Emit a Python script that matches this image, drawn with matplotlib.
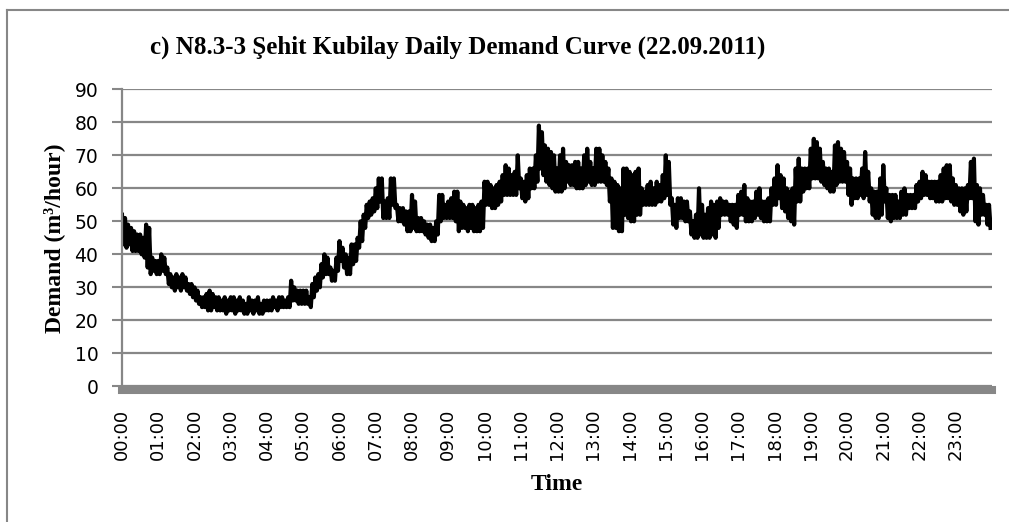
import matplotlib.pyplot as plt
from matplotlib.lines import Line2D

# demand band for every 5-minute slot (m3/hour):
# hiXX = top of the noisy band, loXX = bottom of the band, XX = hour
hi00 = [52, 51, 49, 48, 47, 46, 46, 45, 49, 48, 39, 38]
lo00 = [43, 42, 43, 41, 41, 41, 40, 39, 36, 34, 35, 34]
hi01 = [38, 40, 39, 36, 34, 33, 34, 33, 34, 33, 31, 31]
lo01 = [34, 35, 34, 31, 30, 29, 30, 29, 30, 29, 28, 27]
hi02 = [30, 29, 27, 27, 28, 29, 28, 27, 27, 26, 27, 26]
lo02 = [26, 25, 24, 24, 23, 23, 24, 23, 23, 23, 22, 23]
hi03 = [27, 27, 26, 27, 26, 25, 27, 26, 26, 27, 25, 26]
lo03 = [23, 22, 23, 23, 22, 22, 23, 22, 23, 22, 22, 23]
hi04 = [26, 26, 27, 26, 27, 27, 26, 27, 32, 30, 29, 29]
lo04 = [23, 23, 24, 23, 24, 24, 24, 24, 26, 26, 25, 25]
hi05 = [29, 29, 27, 31, 33, 34, 37, 40, 39, 36, 35, 39]
lo05 = [25, 25, 24, 27, 29, 30, 33, 34, 34, 32, 32, 35]
hi06 = [44, 42, 40, 39, 43, 43, 45, 50, 52, 55, 56, 57]
lo06 = [38, 36, 34, 34, 37, 38, 42, 44, 48, 51, 52, 53]
hi07 = [60, 63, 63, 56, 57, 63, 63, 55, 54, 54, 53, 53]
lo07 = [54, 56, 51, 51, 51, 55, 54, 50, 50, 49, 47, 47]
hi08 = [58, 56, 51, 51, 50, 49, 49, 48, 50, 58, 58, 55]
lo08 = [48, 47, 47, 47, 46, 45, 44, 44, 46, 50, 51, 51]
hi09 = [56, 57, 59, 59, 56, 55, 54, 55, 55, 54, 55, 56]
lo09 = [51, 51, 50, 47, 48, 48, 47, 48, 47, 47, 47, 48]
hi10 = [62, 62, 61, 60, 61, 62, 64, 67, 66, 64, 65, 70]
lo10 = [55, 55, 54, 54, 55, 56, 58, 58, 58, 58, 58, 60]
hi11 = [63, 62, 64, 66, 66, 70, 79, 77, 73, 72, 71, 70]
lo11 = [57, 56, 57, 60, 60, 62, 66, 64, 62, 61, 60, 59]
hi12 = [66, 70, 72, 68, 67, 67, 68, 68, 66, 70, 72, 68]
lo12 = [59, 59, 60, 62, 61, 61, 60, 60, 60, 61, 62, 61]
hi13 = [66, 72, 72, 70, 68, 66, 63, 62, 61, 60, 66, 66]
lo13 = [61, 62, 62, 62, 61, 56, 48, 48, 47, 47, 52, 51]
hi14 = [65, 64, 65, 66, 60, 59, 61, 62, 60, 62, 61, 64]
lo14 = [50, 50, 52, 52, 55, 55, 55, 55, 55, 56, 56, 57]
hi15 = [70, 68, 57, 55, 57, 57, 56, 56, 53, 50, 52, 60]
lo15 = [58, 55, 49, 48, 51, 51, 50, 50, 46, 45, 45, 46]
hi16 = [55, 52, 54, 56, 55, 56, 57, 56, 56, 55, 55, 55]
lo16 = [45, 45, 45, 46, 45, 48, 52, 52, 52, 50, 49, 48]
hi17 = [58, 59, 61, 57, 56, 56, 59, 60, 56, 56, 57, 60]
lo17 = [52, 52, 50, 50, 50, 51, 52, 51, 50, 50, 50, 55]
hi18 = [63, 67, 64, 63, 60, 59, 60, 66, 69, 66, 66, 66]
lo18 = [55, 57, 54, 53, 51, 50, 49, 56, 56, 59, 60, 60]
hi19 = [72, 75, 74, 72, 68, 66, 66, 65, 73, 74, 72, 71]
lo19 = [63, 63, 63, 62, 61, 60, 59, 59, 61, 62, 62, 62]
hi20 = [68, 66, 63, 63, 63, 66, 71, 65, 60, 59, 59, 63]
lo20 = [58, 55, 57, 57, 58, 57, 58, 56, 52, 51, 51, 52]
hi21 = [67, 60, 58, 58, 58, 56, 59, 60, 58, 58, 58, 61]
lo21 = [56, 51, 50, 51, 51, 51, 52, 52, 54, 54, 54, 56]
hi22 = [62, 65, 64, 62, 62, 62, 62, 64, 66, 67, 67, 63]
lo22 = [57, 58, 58, 57, 57, 56, 56, 56, 57, 57, 56, 55]
hi23 = [61, 60, 60, 60, 61, 68, 69, 61, 60, 58, 55, 55]
lo23 = [55, 53, 52, 53, 57, 57, 50, 49, 52, 52, 49, 48]

his = [hi00, hi01, hi02, hi03, hi04, hi05, hi06, hi07, hi08, hi09, hi10, hi11,
       hi12, hi13, hi14, hi15, hi16, hi17, hi18, hi19, hi20, hi21, hi22, hi23]
los = [lo00, lo01, lo02, lo03, lo04, lo05, lo06, lo07, lo08, lo09, lo10, lo11,
       lo12, lo13, lo14, lo15, lo16, lo17, lo18, lo19, lo20, lo21, lo22, lo23]
hour_labels = ['%02d:00' % h for h in range(24)]

# the demand swings between band top and bottom inside every slot
t, demand = [], []
for h in range(24):
    for k in range(12):
        m = h * 60 + k * 5
        t += [m, m + 2.5]
        demand += [his[h][k], los[h][k]]

grey = '#878787'
serif = 'Liberation Serif'

fig = plt.figure(figsize=(10.09, 5.22), dpi=100)
ax = fig.add_axes([0.1209, 0.2599, 0.8623, 0.569])

ax.plot(t, demand, color='black', lw=3)

ax.set_xlim(0, 1440)
ax.set_ylim(0, 90)
ax.set_yticks(range(0, 91, 10))
ax.set_xticks(range(0, 1440, 60))
ax.set_xticklabels(hour_labels)
ax.tick_params(axis='x', length=0, pad=13, labelrotation=90, labelsize=13)
ax.tick_params(axis='y', labelsize=13.5, length=7, width=1.5, color=grey, pad=10)
ax.yaxis.grid(True, color=grey, lw=1.6)
ax.set_axisbelow(True)

for s in ['top', 'right']:
    ax.spines[s].set_visible(False)
ax.spines['left'].set_color(grey)
ax.spines['left'].set_linewidth(1.6)
ax.spines['bottom'].set_color(grey)
ax.spines['bottom'].set_linewidth(5.8)
ax.spines['bottom'].set_position(('outward', 3))

ax.set_xlabel('Time', family=serif, fontweight='bold', fontsize=17)
ax.xaxis.set_label_coords(0.5, -0.295)
ax.set_ylabel('Demand (m³/hour)', family=serif, fontweight='bold', fontsize=17)
ax.yaxis.set_label_coords(-0.066, 0.5)
fig.text(0.149, 0.91, 'c) N8.3-3 Şehit Kubilay Daily Demand Curve (22.09.2011)',
         family=serif, fontweight='bold', fontsize=18, va='center')

# chart area border (only top and left edges are in frame)
fig.add_artist(Line2D([7 / 1009, 7 / 1009], [0, 1 - 10 / 522], color=grey, lw=1.5))
fig.add_artist(Line2D([7 / 1009, 1], [1 - 10 / 522, 1 - 10 / 522], color=grey, lw=1.5))

plt.savefig('out.png', dpi=100)
